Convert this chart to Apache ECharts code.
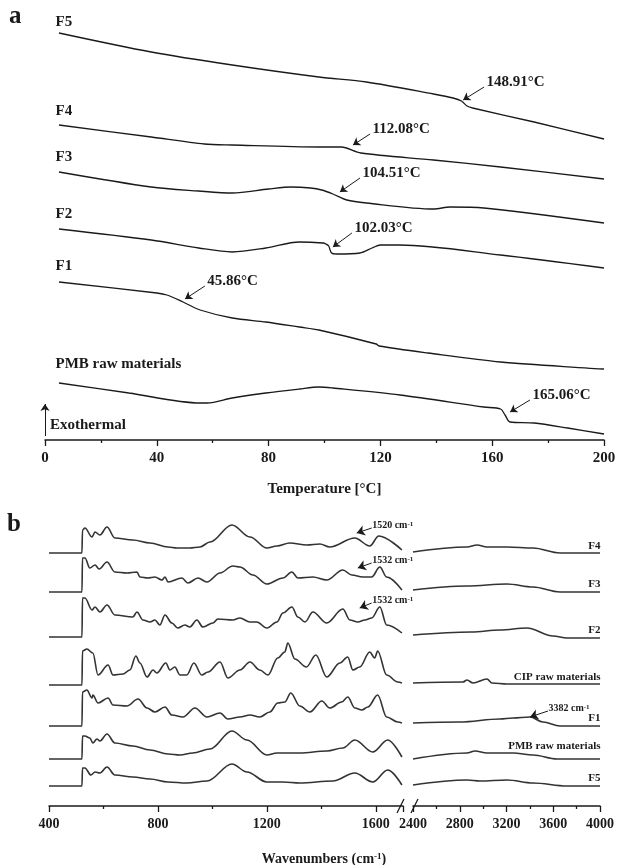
<!DOCTYPE html>
<html>
<head>
<meta charset="utf-8">
<script src="https://cdn.jsdelivr.net/npm/echarts@6/dist/echarts.min.js"></script>
<style>
  html, body { margin: 0; padding: 0; background: #fff; }
  #chart { width: 619px; height: 865px; }
</style>
</head>
<body>
<div id="chart"></div>
<script>
// ---- (a) DSC curves: [temperature °C, heat flow (a.u., stacked)] ----
const tempTicks = [0, 40, 80, 120, 160, 200];
const dscNames = ['F5', 'F4', 'F3', 'F2', 'F1', 'PMB raw materials'];
const dscF5 = [[5, 40.7], [38, 38.8], [67, 37.5], [98, 36.3], [115, 35.8], [139, 34.6], [146, 34.2], [149, 33.9], [151, 33.4], [153, 33.2], [175, 31.8], [200, 30.1]];
const dscF4 = [[5, 31.5], [38, 30.3], [57, 29.6], [67, 29.5], [98, 29.3], [106, 29.3], [113, 28.7], [139, 28.0], [163, 27.3], [200, 26.1]];
const dscF3 = [[5, 26.8], [38, 25.3], [55, 24.9], [67, 24.7], [80, 25.1], [88, 25.3], [95, 25.2], [99, 25.0], [103, 24.6], [108, 24.0], [115, 23.7], [139, 23.1], [145, 23.3], [157, 23.2], [200, 21.7]];
const dscF2 = [[5, 21.1], [38, 20.0], [55, 19.2], [67, 18.8], [79, 19.2], [91, 19.8], [99.5, 19.7], [100.5, 19.6], [101.5, 19.4], [102.5, 18.7], [104.5, 18.6], [112.7, 18.7], [117, 19.2], [120, 19.5], [127, 19.5], [163, 18.5], [200, 17.2]];
const dscF1 = [[5, 15.8], [40, 14.7], [43.6, 14.5], [49.4, 13.8], [55.5, 13.0], [67, 12.2], [79, 11.8], [91, 11.3], [98, 11.0], [118.5, 9.6], [119.5, 9.4], [137, 8.7], [163, 7.8], [200, 7.1]];
const dscPMB = [[5, 5.7], [30, 4.7], [55.5, 3.7], [58, 3.7], [67, 4.2], [79, 4.7], [91, 5.1], [98, 5.3], [103, 5.2], [127, 4.5], [157, 3.3], [163, 3.1], [164.6, 2.5], [166.4, 1.8], [175, 1.7], [187, 1.2], [200, 0.6]];
const dscCurves = [dscF5, dscF4, dscF3, dscF2, dscF1, dscPMB];
const dscNotes = [
  { curve: 0, text: '148.91°C', tip: [149.6, 34.0], tail: [157.1, 35.3] },
  { curve: 1, text: '112.08°C', tip: [110.2, 29.5], tail: [116.3, 30.6] },
  { curve: 2, text: '104.51°C', tip: [105.5, 24.8], tail: [112.7, 26.2] },
  { curve: 3, text: '102.03°C', tip: [103.0, 19.3], tail: [109.8, 20.7] },
  { curve: 4, text: '45.86°C', tip: [50.1, 14.1], tail: [57.2, 15.4] },
  { curve: 5, text: '165.06°C', tip: [166.4, 2.8], tail: [173.5, 4.0] }
];
const exoArrow = [[0, 0.4], [0, 3.6]];

// ---- (b) FTIR spectra: [wavenumber cm-1, intensity (a.u., stacked)] ----
const wnTicksLow = [400, 800, 1200, 1600];
const wnTicksHigh = [2400, 2800, 3200, 3600, 4000];
const ftirNames = ['F4', 'F3', 'F2', 'CIP raw materials', 'F1', 'PMB raw materials', 'F5'];
const ftirF4Low = [[400, 25.3], [521, 25.3], [523, 27.6], [532, 27.8], [558, 26.9], [569, 27.4], [587, 27.1], [613, 27.9], [642, 26.8], [708, 26.6], [771, 26.3], [837, 25.9], [870, 25.8], [917, 25.8], [954, 25.9], [991, 26.4], [1072, 28.1], [1138, 26.9], [1200, 25.8], [1237, 26.0], [1284, 26.3], [1347, 26.1], [1395, 26.2], [1431, 25.9], [1523, 26.8], [1578, 26.0], [1611, 27.0], [1696, 25.6]];
const ftirF4High = [[2400, 25.4], [2862, 25.9], [2948, 26.1], [3033, 25.9], [3204, 25.9], [3427, 25.8], [3658, 25.3], [4000, 25.3]];
const ftirF3Low = [[400, 21.4], [521, 21.4], [523, 24.8], [532, 24.8], [550, 23.8], [569, 24.1], [584, 23.7], [613, 24.4], [642, 23.4], [686, 23.3], [723, 23.4], [734, 22.9], [763, 22.8], [789, 22.9], [815, 22.6], [826, 22.9], [837, 22.4], [888, 22.8], [910, 22.3], [947, 22.8], [980, 22.4], [1028, 23.3], [1075, 24.0], [1101, 23.9], [1149, 23.1], [1200, 22.2], [1259, 22.8], [1292, 23.4], [1314, 22.8], [1369, 22.9], [1420, 22.6], [1479, 23.6], [1512, 23.1], [1552, 22.9], [1585, 22.9], [1615, 23.9], [1640, 22.9], [1696, 21.6]];
const ftirF3High = [[2400, 21.6], [2862, 22.0], [3204, 22.2], [3427, 21.9], [3658, 21.4], [4000, 21.4]];
const ftirF2Low = [[400, 16.9], [521, 16.9], [523, 20.8], [532, 20.8], [558, 19.6], [569, 19.9], [587, 19.4], [613, 20.1], [642, 19.1], [708, 18.9], [723, 19.4], [745, 18.6], [771, 18.4], [789, 18.6], [807, 18.1], [826, 19.1], [851, 18.3], [873, 17.8], [899, 18.1], [917, 17.9], [943, 18.6], [965, 17.9], [1002, 18.3], [1020, 18.7], [1075, 18.6], [1101, 18.8], [1138, 18.4], [1163, 18.4], [1200, 17.8], [1237, 18.4], [1259, 19.3], [1292, 19.9], [1314, 18.9], [1340, 18.4], [1369, 19.4], [1420, 18.3], [1479, 19.7], [1505, 18.6], [1534, 18.4], [1560, 18.6], [1585, 18.8], [1615, 19.9], [1640, 18.1], [1696, 17.3]];
const ftirF2High = [[2400, 17.1], [2900, 17.4], [3144, 17.6], [3375, 17.8], [3598, 17.0], [3718, 16.8], [4000, 16.8]];
const ftirCIPLow = [[400, 12.1], [521, 12.1], [523, 15.5], [539, 15.7], [561, 15.3], [580, 13.1], [617, 14.1], [635, 13.1], [672, 13.2], [697, 13.6], [719, 15.0], [734, 14.3], [760, 12.9], [782, 13.6], [796, 13.3], [829, 14.3], [844, 13.6], [862, 13.9], [881, 13.1], [906, 13.1], [932, 14.3], [961, 13.1], [984, 13.4], [1028, 14.4], [1057, 12.8], [1101, 13.6], [1138, 14.4], [1174, 13.6], [1204, 13.1], [1240, 14.8], [1266, 15.4], [1277, 16.3], [1303, 14.7], [1345, 13.9], [1380, 15.1], [1420, 12.9], [1468, 14.3], [1497, 14.9], [1516, 13.6], [1541, 13.9], [1578, 15.4], [1596, 14.8], [1607, 15.5], [1640, 13.1], [1681, 12.4], [1696, 12.3]];
const ftirCIPHigh = [[2400, 12.3], [2828, 12.4], [2862, 12.6], [2913, 12.3], [3033, 12.7], [3076, 12.3], [3204, 12.2], [4000, 12.2]];
const ftirF1Low = [[400, 8.0], [521, 8.0], [523, 11.4], [539, 11.6], [558, 10.8], [561, 11.1], [580, 10.3], [617, 10.8], [635, 10.1], [686, 10.0], [727, 10.7], [760, 9.8], [789, 9.4], [826, 9.9], [851, 9.1], [892, 8.9], [936, 9.8], [980, 8.9], [1028, 9.3], [1057, 8.7], [1101, 8.9], [1138, 9.1], [1174, 8.9], [1211, 9.4], [1240, 10.3], [1266, 10.4], [1288, 11.3], [1321, 10.0], [1358, 9.4], [1402, 10.5], [1431, 9.8], [1475, 10.4], [1497, 10.9], [1523, 9.8], [1549, 9.6], [1571, 9.9], [1607, 11.1], [1640, 8.9], [1681, 8.4], [1696, 8.3]];
const ftirF1High = [[2400, 8.3], [2802, 8.4], [3144, 8.7], [3256, 8.8], [3401, 8.9], [3512, 8.4], [3658, 8.0], [4000, 8.0]];
const ftirPMBLow = [[400, 4.7], [521, 4.7], [523, 7.0], [532, 7.0], [550, 6.8], [561, 6.3], [576, 6.7], [587, 6.5], [613, 7.2], [642, 6.3], [708, 6.0], [771, 5.6], [837, 5.2], [881, 5.1], [928, 5.3], [991, 5.7], [1072, 7.5], [1127, 6.6], [1200, 5.1], [1237, 5.3], [1321, 5.3], [1420, 5.5], [1479, 5.8], [1523, 6.6], [1589, 5.4], [1644, 6.6], [1696, 4.9]];
const ftirPMBHigh = [[2400, 4.7], [2862, 5.3], [2930, 5.5], [3033, 5.3], [3256, 5.3], [3427, 5.1], [3632, 4.7], [4000, 4.7]];
const ftirF5Low = [[400, 2.0], [521, 2.0], [523, 3.8], [532, 3.8], [554, 3.1], [569, 3.4], [587, 3.3], [613, 3.9], [642, 3.1], [708, 2.9], [771, 2.7], [837, 2.4], [906, 2.3], [980, 2.5], [1072, 4.2], [1127, 3.4], [1200, 2.4], [1259, 2.4], [1321, 2.3], [1442, 2.5], [1523, 3.3], [1589, 2.4], [1644, 3.6], [1696, 2.1]];
const ftirF5High = [[2400, 2.1], [2862, 2.6], [2973, 2.5], [3204, 2.6], [3427, 2.3], [3718, 2.0], [4000, 2.0]];
const ftirLow = [ftirF4Low, ftirF3Low, ftirF2Low, ftirCIPLow, ftirF1Low, ftirPMBLow, ftirF5Low];
const ftirHigh = [ftirF4High, ftirF3High, ftirF2High, ftirCIPHigh, ftirF1High, ftirPMBHigh, ftirF5High];
const ftirNotes = [
  { curve: 0, part: 'low', text: '1520', tip: [1530, 27.3], tail: [1585, 27.8] },
  { curve: 1, part: 'low', text: '1532', tip: [1534, 23.8], tail: [1585, 24.3] },
  { curve: 2, part: 'low', text: '1532', tip: [1541, 19.8], tail: [1585, 20.3] },
  { curve: 4, part: 'high', text: '3382', tip: [3401, 8.9], tail: [3555, 9.5] }
];

const serif = '"Liberation Serif", "Times New Roman", serif';
const ink = '#1a1a1a';
const chart = echarts.init(document.getElementById('chart'));

const boldText = (size) => ({ fontFamily: serif, fontWeight: 'bold', fontSize: size, color: ink });
const supRich = { s: { fontFamily: serif, fontWeight: 'bold', fontSize: 7, color: ink, verticalAlign: 'top', lineHeight: 10 } };

function xAxisOf(grid, ticks, max, fontSize, extra) {
  return Object.assign({
    gridIndex: grid, type: 'value',
    min: ticks[0], max: max, interval: ticks[1] - ticks[0],
    axisLine: { show: true, onZero: false, lineStyle: { color: ink, width: 1.5 } },
    axisTick: { show: true, length: 6, lineStyle: { color: ink, width: 1.3 } },
    minorTick: { show: true, splitNumber: 2, length: 3, lineStyle: { color: ink, width: 1.3 } },
    splitLine: { show: false },
    minorSplitLine: { show: false },
    axisLabel: Object.assign({ margin: 11, formatter: v => String(v) }, boldText(fontSize))
  }, extra || {});
}

const series = [];
const labelGapA = [10, 13, 14, 14, 15, 18];
dscCurves.forEach((data, i) => {
  const notes = dscNotes.filter(n => n.curve === i);
  const lines = notes.map(n => [{ coord: n.tail }, { coord: n.tip }]);
  if (i === dscCurves.length - 1) lines.push([{ coord: exoArrow[0] }, { coord: exoArrow[1] }]);
  const points = [{
    coord: data[0],
    label: Object.assign({ show: true, formatter: dscNames[i], position: [-3, -labelGapA[i]], align: 'left', verticalAlign: 'middle' }, boldText(15))
  }].concat(notes.map(n => ({
    coord: n.tail,
    label: Object.assign({ show: true, formatter: n.text, position: [3, -4], align: 'left', verticalAlign: 'middle' }, boldText(15))
  })));
  series.push({
    type: 'line', name: dscNames[i], xAxisIndex: 0, yAxisIndex: 0, data: data,
    showSymbol: false, smooth: 0.3, silent: true,
    lineStyle: { color: ink, width: 1.3 },
    markLine: { silent: true, symbol: ['none', 'arrow'], symbolSize: 7, label: { show: false },
      lineStyle: { color: ink, width: 1, type: 'solid' }, data: lines },
    markPoint: { silent: true, symbol: 'circle', symbolSize: 1, itemStyle: { color: 'rgba(0,0,0,0)' }, data: points }
  });
});

const labelGapB = [6, 7, 7, 6, 7, 12, 7];
ftirLow.forEach((data, i) => {
  ['low', 'high'].forEach((part, k) => {
    const d = k === 0 ? data : ftirHigh[i];
    const notes = ftirNotes.filter(n => n.curve === i && n.part === part);
    const points = notes.map(n => ({
      coord: n.tail,
      label: Object.assign({ show: true, formatter: () => n.text + ' cm{s|-1}', rich: supRich,
        position: [1, -2], align: 'left', verticalAlign: 'middle' }, boldText(10))
    }));
    if (k === 1) {
      points.push({
        coord: d[d.length - 1],
        label: Object.assign({ show: true, formatter: ftirNames[i], position: [1, -labelGapB[i]], align: 'right', verticalAlign: 'middle' }, boldText(11))
      });
    }
    series.push({
      type: 'line', name: ftirNames[i] + ' ' + part, xAxisIndex: 1 + k, yAxisIndex: 1 + k, data: d,
      showSymbol: false, smooth: 0.35, smoothMonotone: 'x', silent: true,
      lineStyle: { color: '#333', width: 1.6 },
      markLine: { silent: true, symbol: ['none', 'arrow'], symbolSize: 8, label: { show: false },
        lineStyle: { color: ink, width: 1, type: 'solid' },
        data: notes.map(n => [{ coord: n.tail }, { coord: n.tip }]) },
      markPoint: { silent: true, symbol: 'circle', symbolSize: 1, itemStyle: { color: 'rgba(0,0,0,0)' }, data: points }
    });
  });
});

chart.setOption({
  animation: false,
  grid: [
    { left: 45, right: 15, top: 0, bottom: 425 },
    { left: 49, width: 354, top: 496, bottom: 59 },
    { left: 413, width: 187, top: 496, bottom: 59 }
  ],
  xAxis: [
    xAxisOf(0, tempTicks, tempTicks[tempTicks.length - 1], 15, {
      name: 'Temperature [°C]', nameLocation: 'middle', nameGap: 42, nameTextStyle: boldText(15)
    }),
    xAxisOf(1, wnTicksLow, 1700, 14, { axisLabel: Object.assign({ margin: 11, showMaxLabel: false, formatter: v => String(v) }, boldText(14)) }),
    xAxisOf(2, wnTicksHigh, wnTicksHigh[wnTicksHigh.length - 1], 14)
  ],
  yAxis: [
    { gridIndex: 0, type: 'value', min: 0, max: 44, show: false },
    { gridIndex: 1, type: 'value', min: 0, max: 31, show: false },
    { gridIndex: 2, type: 'value', min: 0, max: 31, show: false }
  ],
  series: series
});

// panel letters, axis captions and the axis break marks
const leftEnd = chart.convertToPixel({ xAxisIndex: 1 }, 1700);
const rightStart = chart.convertToPixel({ xAxisIndex: 2 }, wnTicksHigh[0]);
const axisY = chart.convertToPixel({ yAxisIndex: 1 }, 0);
const slash = (cx) => ({
  type: 'line', silent: true,
  shape: { x1: cx - 3.5, y1: axisY + 7, x2: cx + 3.5, y2: axisY - 7 },
  style: { stroke: ink, lineWidth: 1.3 }
});
chart.setOption({
  graphic: [
    { type: 'text', silent: true, x: 9, y: 29, style: { text: 'a', fontFamily: serif, fontWeight: 'bold', fontSize: 25, fill: ink, verticalAlign: 'bottom' } },
    { type: 'text', silent: true, x: 7, y: 537, style: { text: 'b', fontFamily: serif, fontWeight: 'bold', fontSize: 25, fill: ink, verticalAlign: 'bottom' } },
    { type: 'text', silent: true, x: 50, y: 425, style: { text: 'Exothermal', fontFamily: serif, fontWeight: 'bold', fontSize: 15, fill: ink, verticalAlign: 'middle' } },
    { type: 'text', silent: true, x: 324, y: 859, style: {
      text: 'Wavenumbers (cm{s|-1})', rich: { s: { fontFamily: serif, fontWeight: 'bold', fontSize: 9, fill: ink, verticalAlign: 'top' } },
      fontFamily: serif, fontWeight: 'bold', fontSize: 14, fill: ink, align: 'center', verticalAlign: 'middle' } },
    { type: 'rect', silent: true, shape: { x: leftEnd - 1, y: axisY - 8, width: rightStart - leftEnd + 2, height: 16 }, style: { fill: '#fff' } },
    slash(leftEnd - 2.5),
    slash(rightStart + 1.5)
  ]
});
</script>
</body>
</html>
